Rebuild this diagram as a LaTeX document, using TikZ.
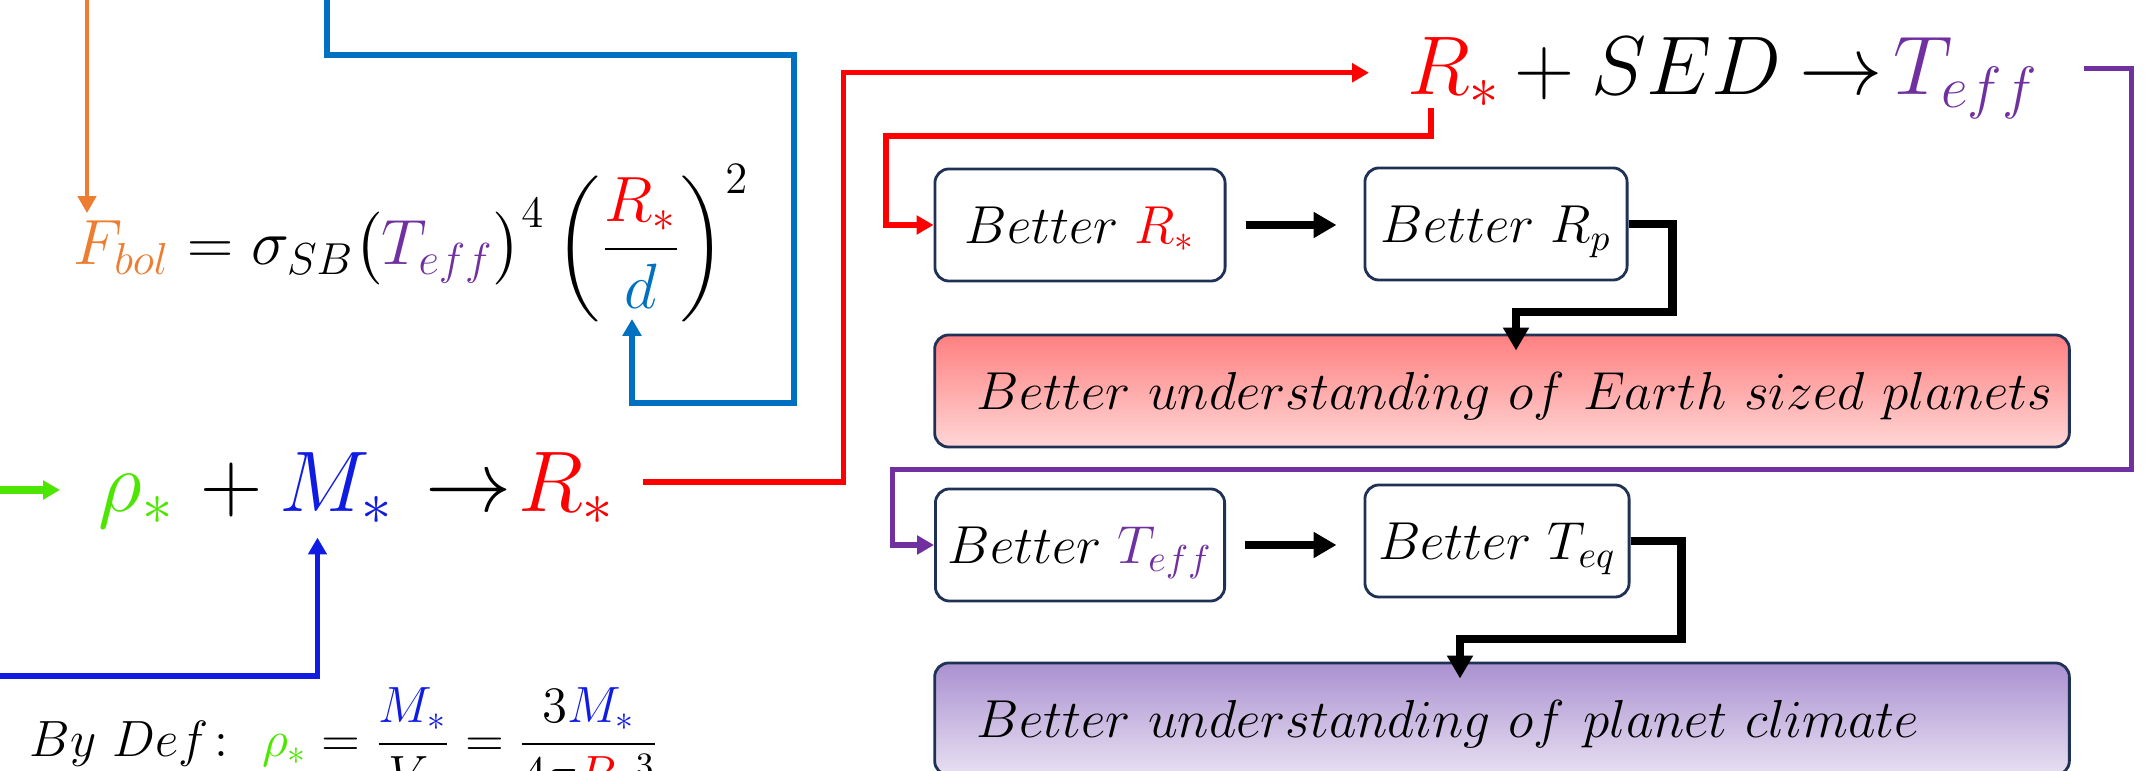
\RequirePackage{fix-cm}
\documentclass[tikz,border=0pt]{standalone}
\usepackage{amsmath}
\usetikzlibrary{arrows.meta,calc,positioning}

\definecolor{orangeF}{RGB}{237,125,49}
\definecolor{steelD}{RGB}{0,112,192}
\definecolor{purpleT}{RGB}{112,48,160}
\definecolor{greenRho}{RGB}{76,230,0}
\definecolor{blueM}{RGB}{16,28,225}
\definecolor{redR}{RGB}{255,0,0}
\definecolor{boxedge}{RGB}{31,50,86}
\definecolor{pinktop}{RGB}{255,128,128}
\definecolor{pinkbot}{RGB}{255,214,214}
\definecolor{lilactop}{RGB}{170,145,208}
\definecolor{lilacbot}{RGB}{232,224,242}

\begin{document}
\begin{tikzpicture}[
			x=0.01cm, y=-0.01cm,
			eqtxt/.style={inner sep=0, anchor=base west},
			eqbig/.style={eqtxt, font=\fontsize{24.5}{29}\selectfont},
			eqtop/.style={eqtxt, font=\fontsize{23.7}{28}\selectfont},
			eqmid/.style={eqtxt, font=\fontsize{18.2}{22}\selectfont},
			eqsmall/.style={eqtxt, font=\fontsize{14.5}{17}\selectfont},
			box/.style={draw=boxedge, line width=0.8pt, rounded corners=0.14cm, minimum height=1.12cm, inner sep=0, text depth=0pt, font=\fontsize{15.2}{18}\selectfont},
			widebox/.style={box, text width=10.5cm, inner xsep=0.42cm, align=left},
			link/.style={line width=1.55pt, -{Triangle[length=4.8pt, width=5.2pt]}},
			heavy/.style={line width=2.4pt, -{Triangle[length=6.5pt, width=7pt]}}
			]
			\useasboundingbox (0,0) rectangle (2155,771);
			\clip (0,0) rectangle (2155,771);
			% Free ends
			\coordinate (orangein) at (87,0);
			\coordinate (steelin) at (327,0);
			\coordinate (greenin) at (0,490);
			\coordinate (bluein) at (0,676);
			\coordinate (dvar) at (632,319);
			
			% Nodes
			\node[eqmid] (fbol) at (73,265) {${\color{orangeF}F_{bol}} = \sigma_{SB}\big({\color{purpleT}T_{eff}}\big)^4 \left(\dfrac{{\color{redR}R_*}}{{\color{steelD}d}}\right)^2$};
			\node[eqbig, text=greenRho] (rho) at (98,512) {$\rho_*$};
			\node[eqbig] (plusA) at (200,512) {$+$};
			\node[eqbig, text=blueM] (mstar) at (279,512) {$M_*$};
			\node[eqbig] (toA) at (425,512) {$\rightarrow$};
			\node[eqbig, text=redR] (rstar) at (518,512) {$R_*$};
			\node[eqsmall] (bydef) at (29,757) {$By\ Def\colon\ {\color{greenRho}\rho_*} = \dfrac{{\color{blueM}M_*}}{V_*} = \dfrac{3{\color{blueM}M_*}}{4\pi{\color{redR}R}_{\color{redR}*}^3}$};
			\node[eqtop, text=redR] (rtop) at (1407,95) {$R_*$};
			\node[eqtop] (plusB) at (1514,95) {$+$};
			\node[eqtop] (sed) at (1591,95) {$SED$};
			\node[eqtop] (toB) at (1799,95) {$\rightarrow$};
			\node[eqtop, text=purpleT] (teff) at (1893,95) {$T_{eff}$};
			
			\node[box, minimum width=2.9cm] (b1) at (1080,225) {$Better\ {\color{redR}R_*}$};
			\node[box, minimum width=2.62cm] (b2) at (1496,224) {$Better\ R_p$};
			\node[widebox, top color=pinktop, bottom color=pinkbot] (big1) at (1502,391) {$Better\ understanding\ of\ Earth\ sized\ planets$};
			\node[box, minimum width=2.89cm] (b3) at (1080,545) {$Better\ {\color{purpleT}T_{eff}}$};
			\node[box, minimum width=2.64cm] (b4) at (1497,541) {$Better\ T_{eq}$};
			\node[widebox, top color=lilactop, bottom color=lilacbot] (big2) at (1502,719) {$Better\ understanding\ of\ planet\ climate$};
			
			% Arrows feeding the equations
			\draw[link, orangeF, line width=1pt] (orangein) -- ($(fbol.base west)+(14,-52)$);
			\draw[link, steelD] (steelin) -- ++(0,55) -- ++(467,0) -- ++(0,348) -| (dvar);
			\draw[link, greenRho, line width=2pt, shorten >=0.38cm] (greenin) -- (greenin -| rho.west);
			\draw[link, blueM] (bluein) -| ($(mstar.south)+(-19,12)$);
			\draw[link, redR] (rstar.east) ++(27,-7) -- ++(201,0) |- ([xshift=-0.38cm]rtop.west);
			
			% Arrows to the boxes
			\draw[link, redR] (rtop.south west) ++(24,0) -- ++(0,28) -- ++(-545,0) |- (b1.west);
			\draw[link, purpleT] (teff.east) ++(45,-10) -- ++(47,0) -- ++(0,401) -- ++(-1239,0) |- (b3.west);
			\draw[heavy, shorten <=0.19cm, shorten >=0.27cm] (b1.east) -- (b1.east -| b2.west);
			\draw[heavy] (b2.east) -- ++(44,0) -- ++(0,88) -| ($(big1.north)+(14,17)$);
			\draw[heavy, shorten <=0.19cm, shorten >=0.27cm] (b3.east) -- (b3.east -| b4.west);
			\draw[heavy] (b4.east) -- ++(51,0) -- ++(0,98) -| ($(big2.north)+(-42,17)$);
		\end{tikzpicture}
\end{document}
